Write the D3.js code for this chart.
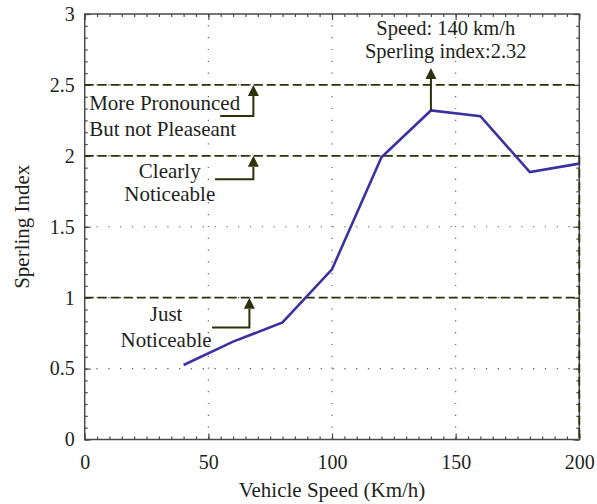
<!DOCTYPE html>
<html>
<head>
<meta charset="utf-8">
<script src="https://cdn.jsdelivr.net/npm/d3@7"></script>
<style>
  html, body { margin: 0; padding: 0; background: #fff; }
  svg { display: block; }
  text { font-family: "Liberation Serif", "Times New Roman", serif; fill: #231f20; }
</style>
</head>
<body>
<svg id="chart" width="597" height="504"></svg>
<script>
// Vehicle speed (km/h) and measured Sperling index
const speeds = [40, 60, 80, 100, 120, 140, 160, 180, 200];
const sperling = [0.525, 0.69, 0.825, 1.2, 1.99, 2.32, 2.28, 1.885, 1.945];

// Axis ticks
const xTicks = [0, 50, 100, 150, 200];
const yTicks = [0, 0.5, 1, 1.5, 2, 2.5, 3];
const yTickLabels = ["0", "0.5", "1", "1.5", "2", "2.5", "3"];

// Perceptibility thresholds and their labels
const thresholds = [1, 2, 2.5];
const thresholdLabels = [
  ["Just", "Noticeable"],
  ["Clearly", "Noticeable"],
  ["More Pronounced", "But not Pleaseant"]
];
// Arrow anchors for each threshold label: [start speed, elbow speed, elbow index]
const thresholdArrows = [
  [51.5, 66.6, 0.79],
  [52.7, 68.2, 1.835],
  [54.8, 68.2, 2.28]
];

// Peak annotation
const peakSpeed = 140;
const peakIndex = 2.32;
const peakLabel = ["Speed: 140 km/h", "Sperling index:2.32"];

const svg = d3.select("#chart");
const x = d3.scaleLinear().domain([0, 200]).range([84.7, 579.3]);
const y = d3.scaleLinear().domain([0, 3]).range([439.5, 14]);

const axisColor = "#4a4a4a";
const olive = "#2f3208";
const lineColor = "#3b31a0";

// Dotted grid
const grid = svg.append("g");
grid.selectAll("line.gx").data(xTicks.slice(1, -1)).join("line")
  .attr("x1", d => x(d)).attr("x2", d => x(d))
  .attr("y1", y(0)).attr("y2", y(3))
  .attr("stroke", "#555").attr("stroke-width", 1.1)
  .attr("stroke-dasharray", "1.2,10.6");
grid.selectAll("line.gy").data(yTicks.slice(1, -1)).join("line")
  .attr("x1", x(0)).attr("x2", x(200))
  .attr("y1", d => y(d)).attr("y2", d => y(d))
  .attr("stroke", "#555").attr("stroke-width", 1.1)
  .attr("stroke-dasharray", "1.2,10.6");

// Axes box with major and minor ticks on all four sides
const xMinor = d3.range(0, 201, 5);
const yMinor = d3.range(0, 37).map(i => i / 12);

function addAxis(axisGen, transform, showLabels) {
  const g = svg.append("g").attr("transform", transform).call(axisGen);
  g.select(".domain").remove();
  g.selectAll(".tick line").attr("stroke", axisColor).attr("stroke-width", 1.2);
  if (!showLabels) g.selectAll(".tick text").remove();
  return g;
}

// bottom
addAxis(d3.axisBottom(x).tickValues(xMinor).tickSize(-3).tickFormat(""), `translate(0,${y(0)})`, false);
const gx = addAxis(d3.axisBottom(x).tickValues(xTicks).tickSize(-6).tickPadding(15)
  .tickFormat(d => d), `translate(0,${y(0)})`, true);
gx.selectAll(".tick text").attr("font-size", 20).attr("font-family", "Liberation Serif").attr("fill", "#231f20");
// top
addAxis(d3.axisTop(x).tickValues(xMinor).tickSize(-3).tickFormat(""), `translate(0,${y(3)})`, false);
addAxis(d3.axisTop(x).tickValues(xTicks).tickSize(-6).tickFormat(""), `translate(0,${y(3)})`, false);
// left
addAxis(d3.axisLeft(y).tickValues(yMinor).tickSize(-3).tickFormat(""), `translate(${x(0)},0)`, false);
const gy = addAxis(d3.axisLeft(y).tickValues(yTicks).tickSize(-6).tickPadding(10)
  .tickFormat((d, i) => yTickLabels[i]), `translate(${x(0)},0)`, true);
gy.selectAll(".tick text").attr("font-size", 20).attr("font-family", "Liberation Serif").attr("fill", "#231f20");
// right
addAxis(d3.axisRight(y).tickValues(yMinor).tickSize(-3).tickFormat(""), `translate(${x(200)},0)`, false);
addAxis(d3.axisRight(y).tickValues(yTicks).tickSize(-6).tickFormat(""), `translate(${x(200)},0)`, false);

svg.append("rect")
  .attr("x", x(0)).attr("y", y(3))
  .attr("width", x(200) - x(0)).attr("height", y(0) - y(3))
  .attr("fill", "none").attr("stroke", axisColor).attr("stroke-width", 1.5);

// Threshold lines
svg.selectAll("line.th").data(thresholds).join("line")
  .attr("x1", x(0)).attr("x2", x(200))
  .attr("y1", d => y(d)).attr("y2", d => y(d))
  .attr("stroke", olive).attr("stroke-width", 1.8)
  .attr("stroke-dasharray", "9,4");
svg.append("line")
  .attr("x1", x(200)).attr("x2", x(200))
  .attr("y1", y(2)).attr("y2", y(0))
  .attr("stroke", olive).attr("stroke-width", 1.8)
  .attr("stroke-dasharray", "9,4");

// Sperling index curve
svg.append("path")
  .datum(speeds.map((s, i) => [s, sperling[i]]))
  .attr("d", d3.line().x(d => x(d[0])).y(d => y(d[1])))
  .attr("fill", "none").attr("stroke", lineColor).attr("stroke-width", 2.6)
  .attr("stroke-linejoin", "miter");

// Arrow helper: polyline ending in a filled triangular head
function arrow(points, color) {
  const head = 11, half = 5.5;
  const n = points.length;
  const [x1, y1] = points[n - 2], [x2, y2] = points[n - 1];
  const len = Math.hypot(x2 - x1, y2 - y1);
  const ux = (x2 - x1) / len, uy = (y2 - y1) / len;
  const bx = x2 - ux * head, by = y2 - uy * head;
  const shaft = points.slice(0, n - 1).concat([[bx, by]]);
  svg.append("path").attr("d", d3.line()(shaft))
    .attr("fill", "none").attr("stroke", color).attr("stroke-width", 2);
  svg.append("path")
    .attr("d", d3.line()([[x2, y2], [bx - uy * half, by + ux * half], [bx + uy * half, by - ux * half]]) + "Z")
    .attr("fill", color);
}

thresholds.forEach((t, i) => {
  const [s0, s1, v] = thresholdArrows[i];
  arrow([[x(s0), y(v)], [x(s1), y(v)], [x(s1), y(t)]], olive);
});

// Threshold labels
const labelPos = [
  { anchor: "middle", x: 32.9, base: [0.835, 0.65] },
  { anchor: "middle", x: 34.4, base: [1.845, 1.68] },
  { anchor: "start", x: 1.8, base: [2.325, 2.14] }
];
thresholdLabels.forEach((lines, i) => {
  const p = labelPos[i];
  lines.forEach((txt, j) => {
    svg.append("text")
      .attr("x", x(p.x)).attr("y", y(p.base[j]))
      .attr("text-anchor", p.anchor)
      .attr("font-size", 21)
      .text(txt);
  });
});

// Peak arrow and label
arrow([[x(peakSpeed), y(peakIndex)], [x(peakSpeed), y(2.62)]], olive);
peakLabel.forEach((txt, j) => {
  svg.append("text")
    .attr("x", x(146)).attr("y", j === 0 ? 35 : 57.8)
    .attr("text-anchor", "middle")
    .attr("font-size", 20.5)
    .text(txt);
});

// Axis titles
svg.append("text")
  .attr("x", (x(0) + x(200)) / 2).attr("y", 497)
  .attr("text-anchor", "middle").attr("font-size", 21)
  .text("Vehicle Speed (Km/h)");
svg.append("text")
  .attr("transform", `translate(29,${(y(0) + y(3)) / 2}) rotate(-90)`)
  .attr("text-anchor", "middle").attr("font-size", 21)
  .text("Sperling Index");
</script>
</body>
</html>
